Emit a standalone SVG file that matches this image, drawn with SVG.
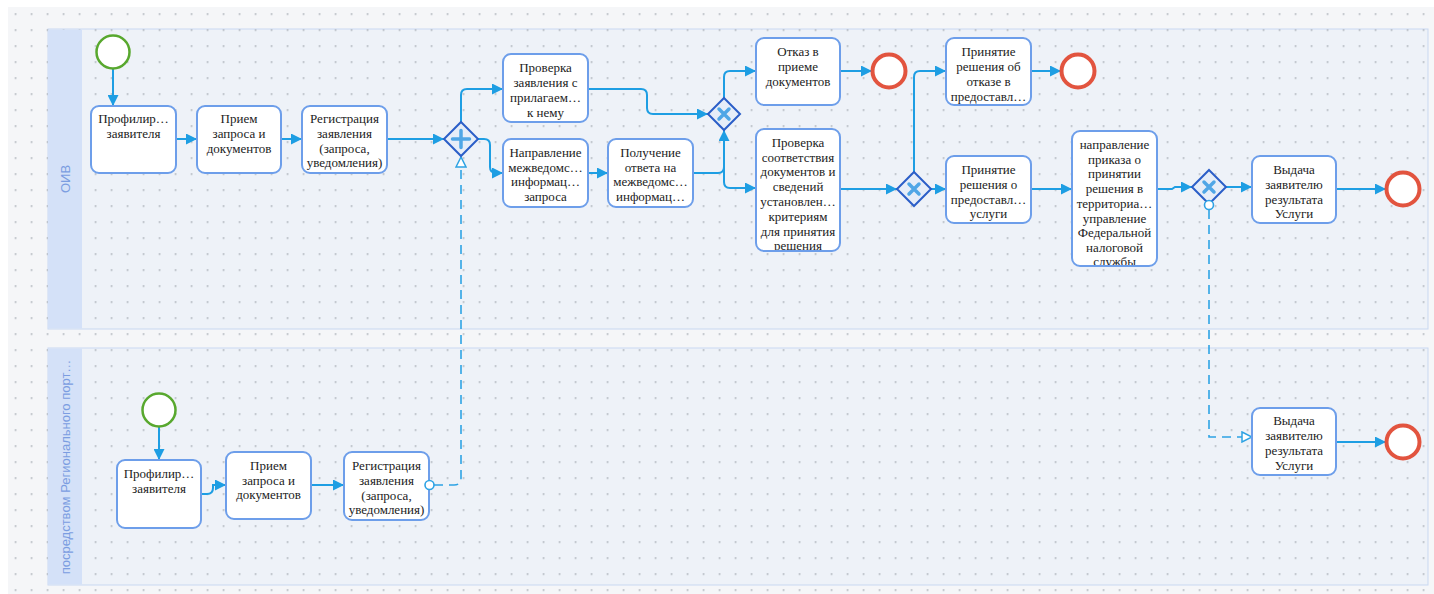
<svg xmlns="http://www.w3.org/2000/svg" width="1434" height="594" viewBox="0 0 1434 594">
<defs>
<pattern id="dots" x="14.7" y="13.3" width="16" height="16" patternUnits="userSpaceOnUse">
<circle cx="0.8" cy="0.8" r="0.9" fill="#a9aeb6"/>
</pattern>
<marker id="arr" viewBox="0 0 10 10" refX="10" refY="5" markerWidth="11" markerHeight="11" markerUnits="userSpaceOnUse" orient="auto">
<path d="M0,0 L10,5 L0,10 z" fill="#1e9ee3"/>
</marker>
<marker id="tri" viewBox="0 0 12 12" refX="11" refY="6" markerWidth="12" markerHeight="12" markerUnits="userSpaceOnUse" orient="auto">
<path d="M1,1 L11,6 L1,11 z" fill="#ffffff" stroke="#2ea3e4" stroke-width="1.5"/>
</marker>
<clipPath id="c8"><rect x="756" y="129" width="84" height="121"/></clipPath>
<clipPath id="c11"><rect x="1072" y="131" width="85" height="134"/></clipPath>
</defs>
<style>
.task{fill:#ffffff;stroke:#6d9eea;stroke-width:2}
.t{font-family:"Liberation Serif","Times New Roman",serif;font-size:13px;fill:#222222;text-anchor:middle}
.flow{fill:none;stroke:#1e9ee3;stroke-width:2;marker-end:url(#arr)}
.msg{fill:none;stroke:#2ea3e4;stroke-width:1.6;stroke-dasharray:9 6}
.start{fill:#ffffff;stroke:#58a82e;stroke-width:2.5}
.end{fill:#ffffff;stroke:#e2543f;stroke-width:4}
.gw{fill:#e6edf8;stroke:#2b5ec8;stroke-width:2}
.mark{stroke:#4fa6e6;stroke-width:3.5;fill:none;stroke-linecap:round}
.lh{fill:#d4e1f8}
.lb{fill:#eef2f8;stroke:#c9d8f1;stroke-width:1}
.lt{font-family:"Liberation Sans",Arial,sans-serif;font-size:13px;fill:#7b9de1;text-anchor:middle}
</style>
<rect x="0" y="0" width="1434" height="594" fill="#ffffff"/>
<rect x="8" y="7" width="1426" height="587" fill="#f5f6f8"/>
<g id="lanes">
<rect class="lb" x="48" y="29" width="1380" height="300"/>
<rect class="lb" x="48" y="348" width="1380" height="237"/>
</g>
<rect x="8" y="7" width="1426" height="587" fill="url(#dots)"/>
<g id="lane-headers">
<rect class="lh" x="48" y="29.5" width="34" height="299"/>
<rect class="lh" x="48" y="348.5" width="34" height="236"/>
<text class="lt" transform="translate(70,179) rotate(-90)">ОИВ</text>
<text class="lt" transform="translate(70,467) rotate(-90)">посредством Регионального порт…</text>
</g>
<g id="connectors">
<path class="flow" d="M113,69 V106"/>
<path class="flow" d="M176,139 H197"/>
<path class="flow" d="M281,139 H302"/>
<path class="flow" d="M387,139 H444"/>
<path class="flow" d="M461,122 V95 Q461,89 467,89 H503"/>
<path class="flow" d="M478,139 H484 Q490,139 490,145 V167 Q490,173 496,173 H503"/>
<path class="flow" d="M588,173 H608"/>
<path class="flow" d="M588,89 H641 Q647,89 647,95 V108 Q647,114 653,114 H708"/>
<path class="flow" d="M693,173 H718 Q724,173 724,167 V130"/>
<path class="flow" d="M724,130 V182 Q724,188 730,188 H756"/>
<path class="flow" d="M724,98 V77 Q724,71 730,71 H756"/>
<path class="flow" d="M840,71 H872"/>
<path class="flow" d="M840,189 H897"/>
<path class="flow" d="M914,172 V77 Q914,71 920,71 H946"/>
<path class="flow" d="M931,189 H946"/>
<path class="flow" d="M1031,71 H1061"/>
<path class="flow" d="M1031,189 H1072"/>
<path class="flow" d="M1157,189 H1172 L1175,187 H1192"/>
<path class="flow" d="M1226,187 H1252"/>
<path class="flow" d="M1336,189 H1386"/>
<path class="flow" d="M159,427 V460"/>
<path class="flow" d="M201,494 H207 Q213,494 213,488 V485 H226"/>
<path class="flow" d="M311,485 H344"/>
<path class="flow" d="M1336,442 H1386"/>
<path class="msg" d="M434,485 H454 Q461,485 461,478 V157" marker-end="url(#tri)"/>
<path class="msg" d="M1209,210 V437 H1252" marker-end="url(#tri)"/>
</g>
<g id="start1"><circle class="start" cx="113" cy="52" r="16.5"/></g>
<g id="task1"><rect class="task" x="91" y="106" width="85" height="67" rx="8"/>
<text class="t" x="133.5" y="123">Профилир…</text><text class="t" x="133.5" y="138">заявителя</text></g>
<g id="task2"><rect class="task" x="197" y="106" width="84" height="67" rx="8"/>
<text class="t" x="239" y="123">Прием</text><text class="t" x="239" y="138">запроса и</text><text class="t" x="239" y="153">документов</text></g>
<g id="task3"><rect class="task" x="302" y="106" width="85" height="67" rx="8"/>
<text class="t" x="344.5" y="123">Регистрация</text><text class="t" x="344.5" y="138">заявления</text><text class="t" x="344.5" y="153">(запроса,</text><text class="t" x="344.5" y="167">уведомления)</text></g>
<g id="gw1"><path class="gw" d="M461,122 L478,139 L461,156 L444,139 z"/>
<path class="mark" d="M461,130.5 V147.5 M452.5,139 H469.5" stroke-width="4.5"/></g>
<g id="task4"><rect class="task" x="503" y="54" width="85" height="68" rx="8"/>
<text class="t" x="545.5" y="72">Проверка</text><text class="t" x="545.5" y="87">заявления с</text><text class="t" x="545.5" y="102">прилагаем…</text><text class="t" x="545.5" y="117">к нему</text></g>
<g id="task5"><rect class="task" x="503" y="139" width="85" height="68" rx="8"/>
<text class="t" x="545.5" y="157">Направление</text><text class="t" x="545.5" y="172">межведомс…</text><text class="t" x="545.5" y="186">информац…</text><text class="t" x="545.5" y="201">запроса</text></g>
<g id="task6"><rect class="task" x="608" y="139" width="85" height="68" rx="8"/>
<text class="t" x="650.5" y="157">Получение</text><text class="t" x="650.5" y="172">ответа на</text><text class="t" x="650.5" y="186">межведомс…</text><text class="t" x="650.5" y="201">информац…</text></g>
<g id="gw2"><path class="gw" d="M724,98 L740,114 L724,130 L708,114 z"/>
<path class="mark" d="M719,109 L729,119 M729,109 L719,119" stroke-width="3"/></g>
<g id="task7"><rect class="task" x="756" y="38" width="84" height="67" rx="8"/>
<text class="t" x="798" y="56">Отказ в</text><text class="t" x="798" y="71">приеме</text><text class="t" x="798" y="86">документов</text></g>
<g id="task8"><rect class="task" x="756" y="129" width="84" height="122" rx="8"/>
<g clip-path="url(#c8)"><text class="t" x="798" y="147">Проверка</text><text class="t" x="798" y="162">соответствия</text><text class="t" x="798" y="176">документов и</text><text class="t" x="798" y="191">сведений</text><text class="t" x="798" y="206">установлен…</text><text class="t" x="798" y="221">критериям</text><text class="t" x="798" y="236">для принятия</text><text class="t" x="798" y="250">решения</text></g></g>
<g id="end1"><circle class="end" cx="889" cy="71" r="16.5"/></g>
<g id="gw3"><path class="gw" d="M914,172 L931,189 L914,206 L897,189 z"/>
<path class="mark" d="M909,184 L919,194 M919,184 L909,194" stroke-width="3"/></g>
<g id="task9"><rect class="task" x="946" y="38" width="85" height="67" rx="8"/>
<text class="t" x="988.5" y="56">Принятие</text><text class="t" x="988.5" y="71">решения об</text><text class="t" x="988.5" y="86">отказе в</text><text class="t" x="988.5" y="101">предоставл…</text></g>
<g id="end2"><circle class="end" cx="1078" cy="71" r="16.5"/></g>
<g id="task10"><rect class="task" x="946" y="156" width="85" height="67" rx="8"/>
<text class="t" x="988.5" y="174">Принятие</text><text class="t" x="988.5" y="189">решения о</text><text class="t" x="988.5" y="204">предоставл…</text><text class="t" x="988.5" y="218">услуги</text></g>
<g id="task11"><rect class="task" x="1072" y="131" width="85" height="135" rx="8"/>
<g clip-path="url(#c11)"><text class="t" x="1114.5" y="149">направление</text><text class="t" x="1114.5" y="164">приказа о</text><text class="t" x="1114.5" y="178">принятии</text><text class="t" x="1114.5" y="193">решения в</text><text class="t" x="1114.5" y="208">территориа…</text><text class="t" x="1114.5" y="223">управление</text><text class="t" x="1114.5" y="237">Федеральной</text><text class="t" x="1114.5" y="252">налоговой</text><text class="t" x="1114.5" y="266">службы</text></g></g>
<g id="gw4"><path class="gw" d="M1209,170 L1226,187 L1209,204 L1192,187 z"/>
<path class="mark" d="M1204,182 L1214,192 M1214,182 L1204,192" stroke-width="3"/></g>
<g id="task12"><rect class="task" x="1252" y="156" width="84" height="67" rx="8"/>
<text class="t" x="1294" y="174">Выдача</text><text class="t" x="1294" y="189">заявителю</text><text class="t" x="1294" y="204">результата</text><text class="t" x="1294" y="218">Услуги</text></g>
<g id="end3"><circle class="end" cx="1403" cy="189" r="16.5"/></g>
<g id="start2"><circle class="start" cx="159" cy="410" r="16.5"/></g>
<g id="task14"><rect class="task" x="117" y="460" width="84" height="68" rx="8"/>
<text class="t" x="159" y="478">Профилир…</text><text class="t" x="159" y="493">заявителя</text></g>
<g id="task15"><rect class="task" x="226" y="452" width="85" height="67" rx="8"/>
<text class="t" x="268.5" y="470">Прием</text><text class="t" x="268.5" y="485">запроса и</text><text class="t" x="268.5" y="499">документов</text></g>
<g id="task16"><rect class="task" x="344" y="452" width="85" height="68" rx="8"/>
<text class="t" x="386.5" y="470">Регистрация</text><text class="t" x="386.5" y="485">заявления</text><text class="t" x="386.5" y="500">(запроса,</text><text class="t" x="386.5" y="514">уведомления)</text></g>
<circle cx="429.5" cy="485" r="4.5" fill="#ffffff" stroke="#2ea3e4" stroke-width="1.6"/>
<g id="task13"><rect class="task" x="1252" y="408" width="84" height="67" rx="8"/>
<text class="t" x="1294" y="425">Выдача</text><text class="t" x="1294" y="440">заявителю</text><text class="t" x="1294" y="455">результата</text><text class="t" x="1294" y="470">Услуги</text></g>
<g id="end4"><circle class="end" cx="1403" cy="442" r="16.5"/></g>
<circle cx="1209" cy="205" r="4.5" fill="#ffffff" stroke="#2ea3e4" stroke-width="1.6"/>
</svg>
